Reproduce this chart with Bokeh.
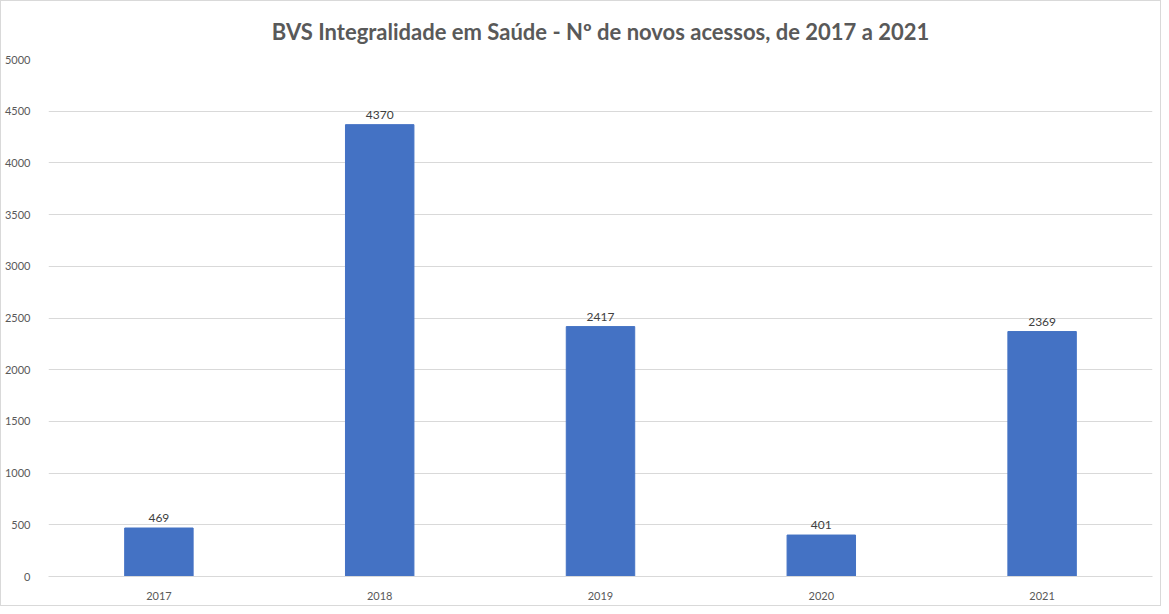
from bokeh.plotting import figure
from bokeh.models import ColumnDataSource, Range1d, FactorRange, SingleIntervalTicker, LabelSet
from bokeh.core.properties import value
from bokeh.embed import file_html
from bokeh.resources import INLINE

years = ["2017", "2018", "2019", "2020", "2021"]
acessos = [469, 4370, 2417, 401, 2369]
labels = [str(v) for v in acessos]

src = ColumnDataSource(dict(x=years, top=acessos, lab=labels))

FONT = "Lato"
p = figure(width=1161, height=606, x_range=FactorRange(*years, range_padding=0),
           y_range=Range1d(0, 5000), output_backend="svg", toolbar_location=None,
           min_border_left=43, min_border_right=10, min_border_bottom=31, min_border_top=12)
p.styles = {"border": "1px solid #d9d9d9"}
p.title.text = "BVS Integralidade em Saúde - Nº de novos acessos, de 2017 a 2021"
p.title.align = "center"
p.title.text_font = FONT
p.title.text_font_size = "22px"
p.title.text_color = "#595959"
p.title.text_font_style = "bold"
p.title.standoff = 29
p.title.offset = 0

p.vbar(x="x", top="top", width=0.31, source=src, color="#4472C4")
p.add_layout(LabelSet(x="x", y="top", text="lab", source=src, text_align="center",
                      y_offset=6, text_font_size="12px", text_color="#404040",
                      text_font=value(FONT)))

p.yaxis.ticker = SingleIntervalTicker(interval=500)
p.ygrid.ticker = SingleIntervalTicker(interval=500)
p.xgrid.grid_line_color = None
p.ygrid.grid_line_color = "#d9d9d9"
p.outline_line_color = None
for ax in (p.xaxis, p.yaxis):
    ax.axis_line_color = None
    ax.major_tick_line_color = None
    ax.minor_tick_line_color = None
    ax.major_label_text_font = FONT
    ax.major_label_text_font_size = "11px"
    ax.major_label_text_color = "#595959"
p.xaxis.axis_line_color = "#d9d9d9"
p.yaxis.major_label_standoff = 12
p.xaxis.major_label_standoff = 9

open("out.html", "w").write(file_html(p, INLINE))
